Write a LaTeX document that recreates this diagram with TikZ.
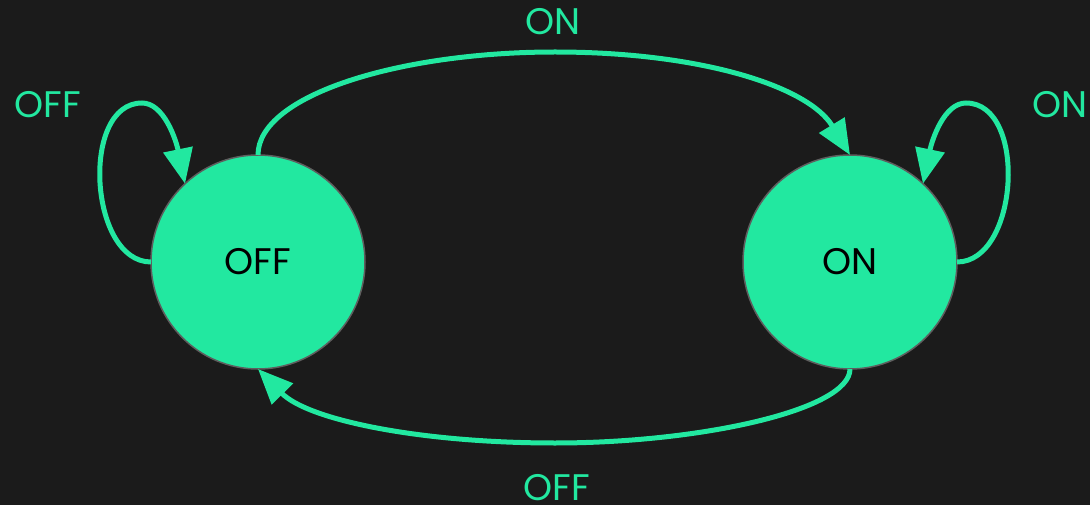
\documentclass[tikz,border=0pt]{standalone}
\usepackage{fontspec}
\setmainfont{Poppins}
\usetikzlibrary{arrows.meta}
\definecolor{bg}{HTML}{1B1B1B}
\definecolor{mint}{HTML}{22E8A0}
\definecolor{rim}{HTML}{5E5E5E}
\tikzset{
  state/.style={circle, fill=mint, draw=rim, line width=1.5pt, minimum size=214pt, inner sep=0pt, outer sep=0pt,
    font=\fontsize{37}{37}\selectfont, text=black, text height=26pt, text depth=0pt},
  lbl/.style={font=\fontsize{37}{37}\selectfont, text=mint, inner sep=0pt, text height=26pt, text depth=0pt},
  trans/.style={draw=mint, line width=5pt, -{Triangle[length=35pt,width=29pt]}}
}
\begin{document}
\begin{tikzpicture}[x=1pt,y=-1pt]
\fill[bg] (0,0) rectangle (1090,505);
\useasboundingbox (0,0) rectangle (1090,505);
\node[state] (OFF) at (258,262) {OFF};
\node[state] (ON) at (850,262) {ON};
\node[lbl] (l1) at (553,22) {ON};
\node[lbl] (l2) at (48,105) {OFF};
\node[lbl] (l3) at (1060,105) {ON};
\node[lbl] (l4) at (557,487) {OFF};
% top arc
\draw[trans] (OFF.north) .. controls (258,95) and (400,52) .. (555,52) .. controls (700,52) and (808,86) .. (ON.north);
% bottom arc
\draw[trans] (ON.south) .. controls (850,410) and (700,443) .. (555,443) .. controls (420,443) and (308,420) .. (OFF.south);
% self loops
\draw[trans] (OFF.west) .. controls (89,262) and (80,103) .. (142,103) .. controls (164,103) and (176,140) .. (OFF.133);
\draw[trans] (ON.east) .. controls (1019,262) and (1028,103) .. (966,103) .. controls (944,103) and (932,140) .. (ON.47);
\end{tikzpicture}
\end{document}
